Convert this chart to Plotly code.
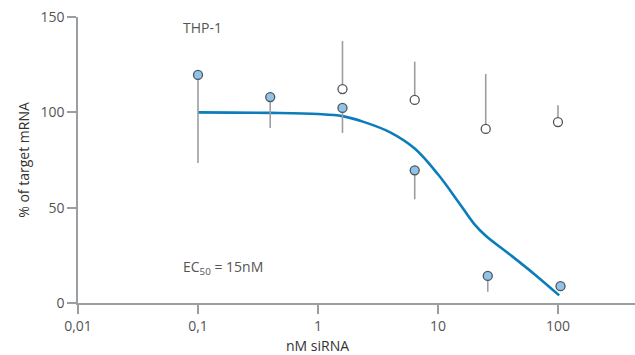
import plotly.graph_objects as go

# --- data ---
conc_filled = [0.1, 0.4, 1.6, 6.4, 26, 105]
val_filled = [119.6, 108, 102.3, 69.6, 14.2, 8.8]
err_filled_minus = [46.2, 16.2, 13.1, 15.2, 8.3, 0]

conc_open = [1.6, 6.4, 25, 100]
val_open = [112.2, 106.5, 91.3, 94.9]
err_open_plus = [25.2, 20.1, 28.8, 8.8]

curve_x = [0.1, 0.4, 1.0, 1.6, 2.4, 4.0, 6.4, 10, 15, 20, 25, 40, 64, 102.4]
curve_y = [100, 99.7, 99.1, 98.0, 95.0, 89.5, 81.0, 67.5, 52.5, 41.5, 35.3, 25.3, 15.0, 4.0]

x_tickvals = [0.01, 0.1, 1, 10, 100]
x_ticktext = ["0,01", "0,1", "1", "10", "100"]
y_tickvals = [0, 50, 100, 150]

FONT = "Open Sans"
GREY = "#9a9ea3"
TXT = "#555555"

fig = go.Figure()

fig.add_trace(go.Scatter(
    x=curve_x, y=curve_y, mode="lines",
    line=dict(color="#0b7dbb", width=2.6, shape="spline", smoothing=1.0),
    hoverinfo="skip", showlegend=False))

fig.add_trace(go.Scatter(
    x=conc_filled, y=val_filled, mode="markers",
    marker=dict(size=9, color="#8fc3e9", line=dict(color="#505458", width=1.3)),
    error_y=dict(type="data", symmetric=False, array=[0]*len(val_filled),
                 arrayminus=err_filled_minus, color=GREY, thickness=1.6, width=0),
    showlegend=False))

fig.add_trace(go.Scatter(
    x=conc_open, y=val_open, mode="markers",
    marker=dict(size=9, color="white", line=dict(color="#505458", width=1.3)),
    error_y=dict(type="data", symmetric=False, array=err_open_plus,
                 arrayminus=[0]*len(val_open), color=GREY, thickness=1.6, width=0),
    showlegend=False))

fig.add_annotation(x=(181 - 78) / 557, y=1 - (27 - 17) / 286, xref="paper", yref="paper",
                   xanchor="left", yanchor="middle", text="THP-1",
                   showarrow=False, font=dict(family=FONT, size=14, color=TXT))
fig.add_annotation(x=(181 - 78) / 557, y=(303 - 267) / 286, xref="paper", yref="paper",
                   xanchor="left", yanchor="middle", text="EC<sub>50</sub> = 15nM",
                   showarrow=False, font=dict(family=FONT, size=14, color=TXT))
fig.add_annotation(x=0, y=-(345 - 303) / 286, xref="x", yref="paper",
                   xanchor="center", yanchor="middle", text="nM siRNA",
                   showarrow=False, font=dict(family=FONT, size=14, color="#333333"))

fig.update_layout(
    width=635, height=355,
    margin=dict(l=78, r=0, t=17, b=52),
    paper_bgcolor="white", plot_bgcolor="white",
    font=dict(family=FONT, size=13, color=TXT),
    xaxis=dict(type="log", range=[-2, 2.642], tickvals=x_tickvals, ticktext=x_ticktext,
               showgrid=False, zeroline=False, showline=True, linecolor=GREY, linewidth=1.5,
               ticks="outside", ticklen=9, tickcolor=GREY, tickwidth=1.5,
               tickfont=dict(family=FONT, size=14, color=TXT)),
    yaxis=dict(range=[0, 150], tickvals=y_tickvals, showgrid=False, zeroline=False,
               showline=True, linecolor=GREY, linewidth=1.5,
               ticks="outside", ticklen=9, tickcolor=GREY, tickwidth=1.5,
               tickfont=dict(family=FONT, size=14, color=TXT),
               title=dict(text="% of target mRNA", standoff=8,
                          font=dict(family=FONT, size=14, color="#333333"))),
)

fig.write_html("out.html")
